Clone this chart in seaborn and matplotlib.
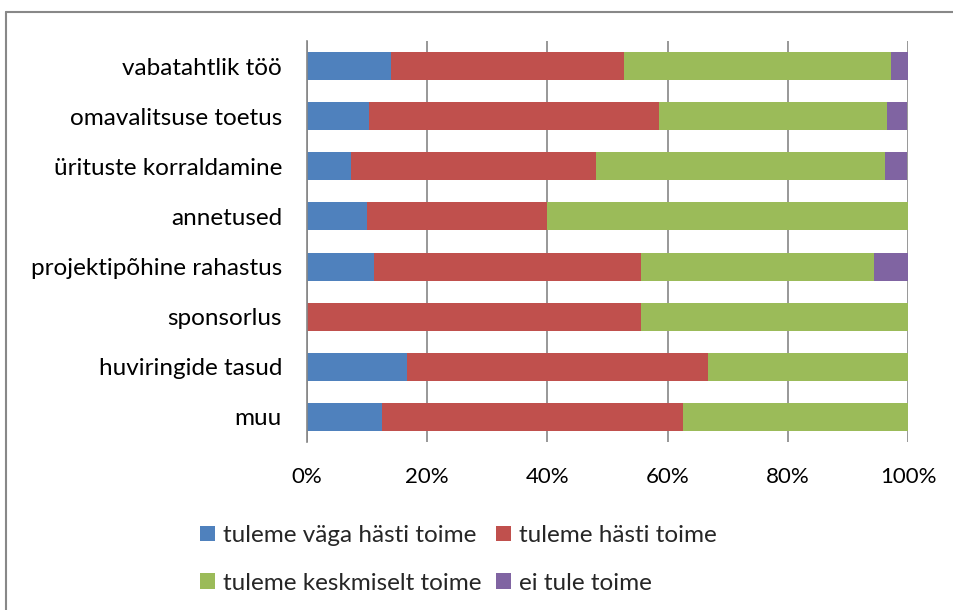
import numpy as np
import pandas as pd
import seaborn as sns
import matplotlib.pyplot as plt
from matplotlib.patches import Patch
from matplotlib.lines import Line2D

# kategooriad ülevalt alla
kategooriad = ["vabatahtlik töö", "omavalitsuse toetus", "ürituste korraldamine",
               "annetused", "projektipõhine rahastus", "sponsorlus",
               "huviringide tasud", "muu"]

# osakaalud (%)
vaga_hasti = [13.9, 10.3, 7.4, 10.0, 11.1, 0.0, 16.7, 12.5]
hasti = [38.9, 48.3, 40.7, 30.0, 44.4, 55.6, 50.0, 50.0]
keskmiselt = [44.4, 37.9, 48.1, 60.0, 38.9, 44.4, 33.3, 37.5]
ei_tule = [2.8, 3.4, 3.7, 0.0, 5.6, 0.0, 0.0, 0.0]

seeriad = ["tuleme väga hästi toime", "tuleme hästi toime",
           "tuleme keskmiselt toime", "ei tule toime"]
varvid = ["#4F81BD", "#C0504D", "#9BBB59", "#8064A2"]

df = pd.DataFrame({"kategooria": kategooriad,
                   seeriad[0]: vaga_hasti, seeriad[1]: hasti,
                   seeriad[2]: keskmiselt, seeriad[3]: ei_tule})
kum = df[seeriad].cumsum(axis=1)

sns.set_theme(style="white")
plt.rcParams["font.family"] = ["Lato", "DejaVu Sans"]

fig = plt.figure(figsize=(9.54, 6.1), dpi=100)
ax = fig.add_axes([307 / 954, 1 - 442 / 610, 601 / 954, 401 / 610])

# kuhjatud tulbad: suurim kumulatiivne summa enne
for s, c in zip(seeriad[::-1], varvid[::-1]):
    sns.barplot(x=kum[s], y=df["kategooria"], color=c, orient="h",
                width=0.56, saturation=1, ax=ax, linewidth=0)

ax.set_xlim(0, 100)
ax.set_ylim(7.5, -0.5)
ax.set_xticks([0, 20, 40, 60, 80, 100])
ax.set_xticklabels(["0%", "20%", "40%", "60%", "80%", "100%"])
ax.set_xlabel("")
ax.set_ylabel("")
ax.xaxis.grid(True, color="#868686", linewidth=1.2)
ax.set_axisbelow(True)
for sp in ["top", "right", "bottom"]:
    ax.spines[sp].set_visible(False)
ax.spines["left"].set_color("#868686")
ax.spines["left"].set_linewidth(1.2)
ax.tick_params(axis="x", length=0, pad=18, labelsize=16, colors="black")
ax.tick_params(axis="y", length=0, pad=18, labelsize=17.5, colors="black")

# legend ridade kaupa: (0,1) ülemises, (2,3) alumises reas
jrk = [0, 2, 1, 3]
kasitsejad = [Patch(facecolor=varvid[i], edgecolor="none") for i in jrk]
fig.legend(kasitsejad, [seeriad[i] for i in jrk], ncol=2, frameon=False,
           fontsize=17.5, loc="upper left",
           bbox_to_anchor=(200 / 954, 1 - 525 / 610),
           handlelength=0.62, handleheight=0.62, handletextpad=0.33,
           columnspacing=0.6, labelspacing=1.1, borderaxespad=0,
           borderpad=0)

# diagrammi raam (ülemine ja vasak serv)
fig.add_artist(Line2D([6.5 / 954, 6.5 / 954], [0, 1 - 11.5 / 610],
                      color="#888888", linewidth=1.5))
fig.add_artist(Line2D([6.5 / 954, 1], [1 - 11.5 / 610, 1 - 11.5 / 610],
                      color="#888888", linewidth=1.5))

fig.savefig("out.png", dpi=100)
